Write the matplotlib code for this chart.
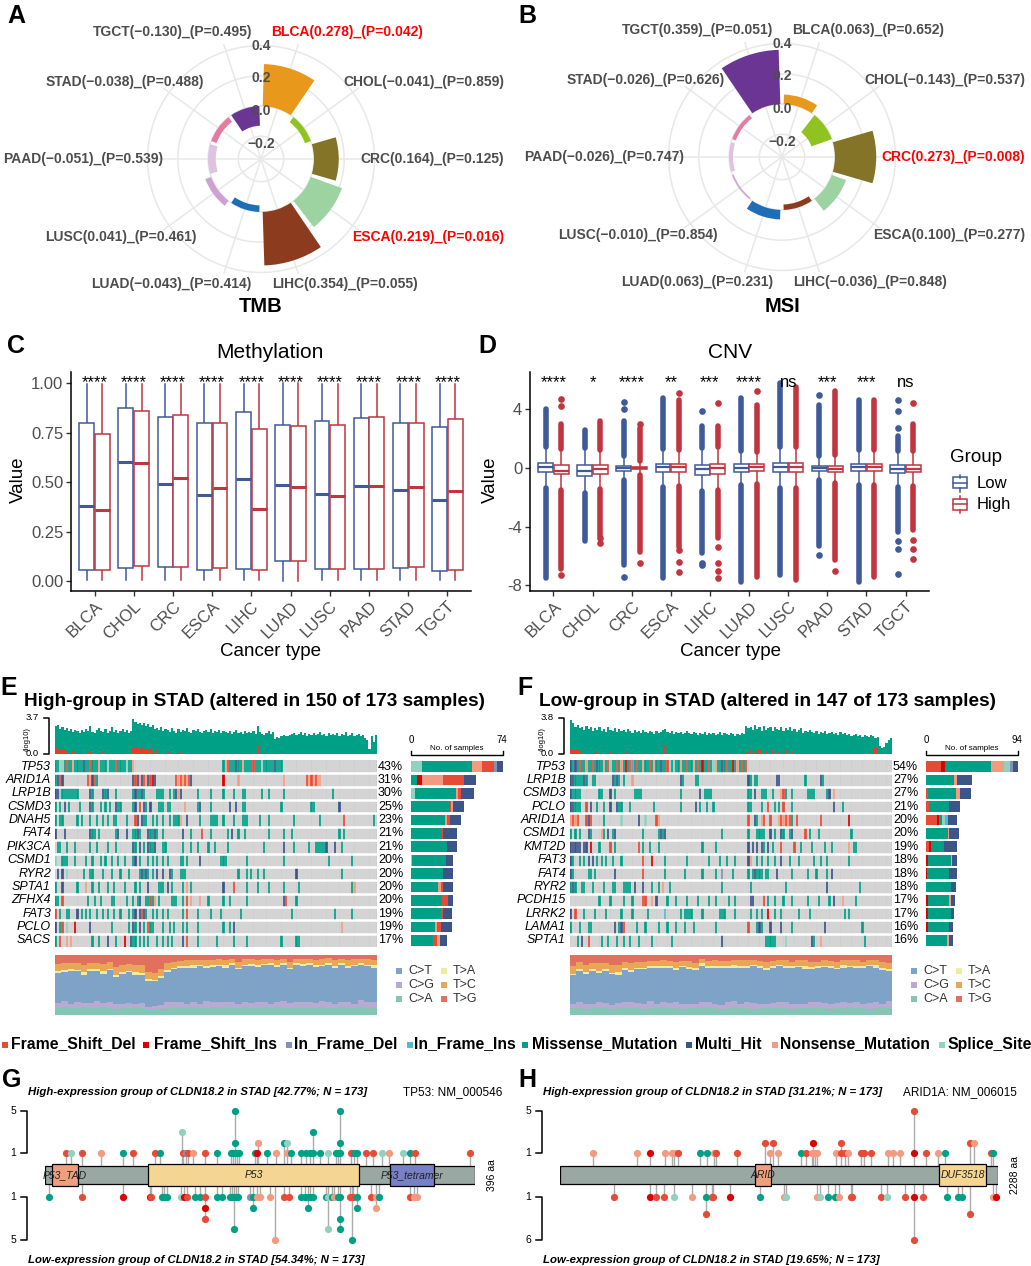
import numpy as np
import matplotlib
matplotlib.use('Agg')
import matplotlib.pyplot as plt
from matplotlib.patches import Rectangle
from matplotlib.lines import Line2D
from matplotlib.colors import to_rgb

plt.rcParams['font.family'] = ['Liberation Sans', 'DejaVu Sans']
plt.rcParams['axes.unicode_minus'] = False

# ---------------- data ----------------
cancers = ['BLCA', 'CHOL', 'CRC', 'ESCA', 'LIHC', 'LUAD', 'LUSC', 'PAAD', 'STAD', 'TGCT']
cancer_colors = ['#E8991C', '#8FC31F', '#847427', '#9DD3A0', '#8C3B1E',
                 '#1E6DB7', '#CDA2D3', '#DDC3E0', '#E57BA0', '#6A3593']

tmb_r = [0.278, -0.041, 0.164, 0.219, 0.354, -0.043, 0.041, -0.051, -0.038, -0.130]
tmb_p = [0.042, 0.859, 0.125, 0.016, 0.055, 0.414, 0.461, 0.539, 0.488, 0.495]
msi_r = [0.063, -0.143, 0.273, 0.100, -0.036, 0.063, -0.010, -0.026, -0.026, 0.359]
msi_p = [0.652, 0.537, 0.008, 0.277, 0.848, 0.231, 0.854, 0.747, 0.626, 0.051]

# methylation boxplots (min, q1, median, q3, max)
meth_low_min = [0.004, 0.003, 0.003, 0.003, 0.003, 0.000, 0.003, 0.003, 0.003, 0.003]
meth_low_q1 = [0.054, 0.066, 0.069, 0.055, 0.060, 0.100, 0.059, 0.061, 0.064, 0.050]
meth_low_med = [0.377, 0.600, 0.490, 0.434, 0.515, 0.487, 0.440, 0.480, 0.460, 0.407]
meth_low_q3 = [0.800, 0.875, 0.830, 0.800, 0.855, 0.790, 0.806, 0.825, 0.800, 0.780]
meth_low_max = [0.997, 0.997, 0.997, 0.997, 0.997, 0.998, 0.997, 0.997, 0.997, 0.997]
meth_high_min = [0.003, 0.003, 0.003, 0.003, 0.003, 0.000, 0.003, 0.003, 0.003, 0.003]
meth_high_q1 = [0.057, 0.077, 0.070, 0.064, 0.055, 0.100, 0.059, 0.061, 0.070, 0.054]
meth_high_med = [0.357, 0.597, 0.520, 0.468, 0.362, 0.475, 0.430, 0.482, 0.475, 0.453]
meth_high_q3 = [0.740, 0.857, 0.840, 0.800, 0.770, 0.785, 0.786, 0.828, 0.800, 0.817]
meth_high_max = [0.997, 0.997, 0.997, 0.997, 0.997, 1.000, 0.997, 0.997, 0.997, 0.997]
meth_sig = ['****'] * 10

# CNV boxplots
cnv_low_q1 = [-0.30, -0.53, -0.20, -0.30, -0.46, -0.27, -0.30, -0.20, -0.23, -0.34]
cnv_low_med = [0.07, -0.23, 0.0, 0.05, -0.10, 0.0, 0.05, 0.0, 0.05, -0.10]
cnv_low_q3 = [0.34, 0.20, 0.16, 0.30, 0.23, 0.25, 0.34, 0.16, 0.30, 0.23]
cnv_low_top = [4.0, 2.6, 3.2, 4.8, 2.85, 4.8, 5.8, 4.3, 4.6, 2.2]
cnv_low_bot = [-7.5, -5.0, -6.6, -7.5, -5.8, -7.8, -7.3, -5.3, -7.8, -4.35]
cnv_low_extra = [[], [], [4.0, 4.5, -7.4], [], [3.9, -6.5, -6.6], [], [], [4.95, -5.9], [],
                 [2.7, 3.9, 4.6, -5.0, -5.5, -7.2]]
cnv_high_q1 = [-0.41, -0.39, -0.10, -0.27, -0.39, -0.23, -0.30, -0.27, -0.23, -0.30]
cnv_high_med = [-0.18, -0.10, 0.0, 0.05, 0.0, 0.05, 0.05, -0.05, 0.05, -0.05]
cnv_high_q3 = [0.23, 0.23, 0.10, 0.30, 0.30, 0.27, 0.34, 0.16, 0.30, 0.23]
cnv_high_top = [3.0, 3.2, 2.7, 4.6, 2.85, 4.3, 5.5, 5.25, 4.6, 3.0]
cnv_high_bot = [-6.9, -4.6, -5.7, -5.4, -4.8, -7.4, -7.65, -6.3, -7.4, -4.2]
cnv_high_extra = [[4.2, 4.7, -7.3], [-4.8, -5.1], [3.0, -6.5], [5.1, -5.6, -6.4, -7.1],
                  [4.4, -5.4, -6.5, -7.0, -7.5], [5.25], [], [-7.0], [], [4.4, -4.9, -5.5, -6.2]]
cnv_sig = ['****', '*', '****', '**', '***', '****', 'ns', '***', '***', 'ns']

# mutation classes
vc_names = {'D': 'Frame_Shift_Del', 'I': 'Frame_Shift_Ins', 'd': 'In_Frame_Del', 'i': 'In_Frame_Ins',
            'M': 'Missense_Mutation', 'H': 'Multi_Hit', 'N': 'Nonsense_Mutation', 'S': 'Splice_Site'}
vc_colors = {'D': '#E64B35', 'I': '#DC0000', 'd': '#8491B4', 'i': '#4DBBD5',
             'M': '#00A087', 'H': '#3C5488', 'N': '#F39B7F', 'S': '#91D1C2'}

# oncoprint, high group (150 altered samples)
high_genes = ['TP53', 'ARID1A', 'LRP1B', 'CSMD3', 'DNAH5', 'FAT4', 'PIK3CA', 'CSMD1', 'RYR2',
              'SPTA1', 'ZFHX4', 'FAT3', 'PCLO', 'SACS']
high_pct = ['43%', '31%', '30%', '25%', '23%', '21%', '21%', '20%', '20%', '20%', '20%', '19%', '19%', '17%']
high_rows = [
    "0-36M 2S 3S 5D 8N 13H 16D 20N 24S 28D 33S 36N 78-105M 79N 80D 84H 87N 92D 96S 102H",
    "0M 1H 2D 3H 15D 16N 17H 18D 19M 36H 37D 38H 39N 40H 41D 42N 43H 44D 45I 46H 56D 57N 58D 59N "
    "60D 61N 62D 63H 78I 85N 106N 117D 118N 119D 120N 121D 122N 123N",
    "0-1H 2S 3-10M 16H 17M 22H 23M 24H 28M 36M 37H 38-39M 40H 41M 47-50M 53M 55M 56H 57N 58H 66M "
    "72M 78M 83M 87-88M 96M 99M 106M 129M",
    "0M 2M 4H 6M 11M 16H 17M 21M 23M 25M 28H 29-30M 36M 37H 39D 41H 42M 44H 48-50M 52M 53M 60N 66M "
    "67H 72M 81H 84H 87M 88M 105M 119M 120M 132H",
    "0M 2-3M 10M 12M 16M 19M 22M 24M 27-28M 33M 37D 38H 40H 41-42M 45M 47M 50M 53M 55-57M 58N 61H "
    "67M 72-75M 78M 83M 87-89M 95M 99M 111M 123M 134D 148M",
    "0H 4H 16H 17-18M 20M 28M 29H 33H 36-37M 38H 39M 43H 44-45M 46H 47M 50M 59H 63M 68D 72M 80M 82H "
    "85M 88M 99M 106M 110M 132M 134M",
    "1-2M 5M 9M 16M 19M 24M 28M 36H 37M 39H 41M 43H 44-45M 46H 50-51M 59M 63M 66M 71M 74M 80M 97M "
    "106H 111M 118M 121-125M 126H 130H 133M",
    "0S 3-5M 9M 14M 17M 21M 23M 26M 29M 32M 36M 37H 39M 43M 45M 47M 50M 52M 58-59M 61M 67H 77-79M "
    "89M 106M 127M 138M",
    "1H 3H 5S 13M 16-17M 22M 26M 30M 34M 39M 40H 41M 42H 43M 45M 47H 50H 53H 54M 58-60M 85M 89M 91M "
    "94M 97M 112H 133M",
    "0M 3H 10M 14N 17M 20M 24M 27M 32M 37M 39M 43H 48-50M 52H 54M 59M 61N 63M 78H 83D 89M 94M 99M "
    "106M 113M 138M 139N",
    "0-1M 3D 15M 18M 21M 26-27M 33M 36M 38M 39H 42M 43M 44D 45M 46N 48M 54-56M 59M 61D 63N 67N 71M "
    "78M 81M 89M 106H 107D 112M",
    "0D 2M 5M 6M 10H 12M 14M 16M 19M 22M 24M 27M 30M 34M 36M 37H 39H 40D 41H 42M 45M 47M 50M 52M "
    "59M 61D 66M 72M 77M 86M 110M 130M 138M",
    "0H 2M 3D 5S 9I 16H 26M 34M 36H 37M 39H 41M 43D 44M 45M 50M 53M 55M 59M 61M 66M 78M 81M 83H 133N",
    "0M 2D 5N 7N 17M 20M 24H 28M 32I 35H 36-37M 39M 41M 43M 47M 50M 52M 54M 59H 61D 66M 75M 83M 89M "
    "105M 112-113M",
]
high_bars = ["S9 M40 N8 D10 d2 H5", "M5 I4 N17 D17 H9", "S3 M33 N2 D2 H11", "M31 D1 N1.5 H9",
             "M27 N2 D2 H9", "M25 D1 H11", "M29 H8", "S1 M27 H6", "M26 H8", "M22 N2 D2 H7.5",
             "M25 D5 H3.5", "M24 D2 H7", "M19 N2 D3 H9", "M18 D3 N2 H6"]
high_tmb = [2.9, 3.0, 2.6, 2.8, 2.5, 2.7, 2.4, 2.6, 2.3, 2.5,
            2.4, 2.2, 2.5, 2.3, 2.6, 2.4, 2.9, 2.3, 2.2, 2.5,
            2.7, 2.4, 2.3, 2.6, 2.2, 2.4, 2.8, 2.3, 2.5, 2.2,
            2.4, 2.6, 2.3, 2.5, 2.2, 2.4, 3.6, 3.3, 3.1, 3.2,
            3.0, 3.2, 2.9, 3.1, 2.8, 3.0, 2.6, 2.7, 2.5, 2.8,
            2.4, 2.6, 2.5, 2.3, 2.7, 2.4, 2.2, 2.6, 2.3, 2.5,
            2.4, 2.7, 2.3, 2.2, 2.5, 2.4, 2.6, 2.3, 2.2, 2.4,
            2.5, 2.3, 2.6, 2.2, 2.4, 2.3, 2.5, 2.2, 2.4, 2.3,
            2.2, 2.4, 2.1, 2.3, 2.5, 2.2, 2.3, 2.1, 2.4, 2.2,
            2.3, 2.2, 2.4, 2.1, 2.9, 2.3, 2.1, 2.0, 2.2, 2.4,
            2.1, 2.3, 1.5, 1.7, 1.6, 1.9, 2.0, 1.8, 1.9, 2.0,
            2.1, 2.2, 2.0, 2.1, 2.3, 2.0, 2.2, 1.9, 2.1, 2.0,
            2.2, 2.0, 2.1, 2.3, 2.0, 2.1, 1.9, 2.2, 2.0, 2.1,
            2.0, 2.2, 1.9, 2.1, 2.0, 2.3, 1.9, 2.0, 2.2, 1.9,
            2.0, 2.1, 1.8, 2.0, 1.6, 1.4, 0.5, 1.9, 1.2, 2.0]
high_fs_cols = [0, 1, 2, 3, 4, 5, 8, 9, 15, 16, 22, 36, 37, 38, 39, 40, 41, 42, 43, 44, 45, 47, 52, 58, 94]
high_fs_vals = [0.6, 0.5, 0.55, 0.4, 0.5, 0.3, 0.35, 0.3, 0.3, 0.25, 0.3, 0.7, 0.6, 0.65, 0.5, 0.6,
                0.55, 0.5, 0.4, 0.6, 0.3, 0.4, 0.3, 0.25, 0.9]
high_ca = [12, 13, 11, 12, 14, 12, 11, 13, 12, 10, 12, 11, 13, 12, 8, 9, 10, 12, 13, 11,
           12, 13, 11, 12, 14, 12, 13, 11, 12, 13, 12, 11, 13, 12, 14, 12, 11, 13, 12, 13,
           12, 14, 11, 12, 13, 12, 11, 13, 12, 12]
high_cg = [8, 10, 7, 9, 6, 8, 12, 7, 9, 8, 7, 9, 6, 8, 5, 6, 7, 9, 8, 10,
           7, 9, 8, 11, 7, 9, 8, 10, 7, 9, 8, 10, 9, 7, 8, 11, 9, 8, 10, 9,
           8, 9, 11, 7, 9, 10, 8, 12, 9, 10]
high_ct = [50, 48, 55, 52, 47, 53, 51, 49, 54, 46, 50, 52, 48, 47, 44, 42, 45, 50, 55, 58,
           60, 57, 62, 56, 59, 61, 58, 63, 57, 60, 62, 59, 61, 64, 58, 60, 57, 62, 59, 61,
           60, 58, 62, 59, 61, 57, 63, 58, 60, 57]
high_ta = [3, 4, 3, 2, 4, 3, 3, 4, 2, 3, 3, 2, 4, 3, 3, 2, 3, 4, 3, 2,
           3, 4, 2, 3, 3, 2, 4, 3, 3, 2, 3, 3, 2, 4, 3, 3, 2, 3, 4, 3,
           3, 2, 3, 4, 3, 3, 2, 3, 3, 4]
high_tc = [12, 11, 10, 12, 13, 11, 10, 12, 11, 13, 12, 11, 12, 13, 12, 11, 12, 11, 10, 9,
           9, 8, 9, 10, 8, 9, 8, 7, 10, 9, 8, 9, 8, 7, 9, 8, 10, 8, 9, 8,
           9, 10, 8, 9, 8, 10, 9, 8, 9, 9]

# oncoprint, low group (147 altered samples)
low_genes = ['TP53', 'LRP1B', 'CSMD3', 'PCLO', 'ARID1A', 'CSMD1', 'KMT2D', 'FAT3', 'FAT4', 'RYR2',
             'PCDH15', 'LRRK2', 'LAMA1', 'SPTA1']
low_pct = ['54%', '27%', '27%', '21%', '20%', '20%', '19%', '18%', '18%', '18%', '17%', '17%', '16%', '16%']
low_rows = [
    "0-80M 0H 2H 4D 7N 10D 12H 15N 17D 18S 21D 23N 25I 27D 30D 33N 36D 38N 41H 44D 47S 50N 53D 56N "
    "58D 60I 63D 66N 69H 71D 74I 76N 78D 80D 28d 45S 65S",
    "0H 1H 2M 3-5M 6H 7M 10-11M 19H 20M 21H 22M 24M 28N 50H 51M 57-58M 81H 82M 84-85M 94H 95H 107M "
    "114H 115M",
    "0H 1-4M 13-14M 18H 20M 29-32M 50M 59H 61-64M 81M 82M 84H 87-89M 92M 96N 97D 98M 101M 108-111M "
    "117M 118H 120N",
    "0H 1H 2-3M 4M 7D 9H 12M 15M 18H 21H 22-23M 27M 38M 50M 57H 59M 62M 65M 81M 82M 87M 90D 93M 95M "
    "97D 101M 120H 124M",
    "0N 1D 2N 3D 7D 8H 9D 15M 23S 31H 34S 39D 40N 81D 84H 85M 87N 88D 91D 95N 96D 97N 98D 99N 100D "
    "101M 103D 114D 127I",
    "0M 2M 4M 8H 9M 14N 15M 17H 19M 20H 33M 40M 41H 42M 43H 69M 81M 85-87M 88M 91H 93M 96H 97M 100M "
    "101H 107D 109M 113M 128M",
    "0-4H 6H 7H 9I 13M 18D 20M 31D 33M 36M 40M 60M 66M 81H 83H 85H 87H 88M 90H 92M 96D 102D 105M 110M "
    "116M 119M 127N 129-130M",
    "0H 1M 4M 6M 8H 10H 12M 14M 16M 19M 23M 33D 37I 43M 53M 63M 68M 71M 75M 81H 82N 85M 87M 90M 93M "
    "96H 100M 104M 111M 114M 117M 127M",
    "0H 1M 8-9M 11M 20H 33D 43M 52M 60M 66M 69d 74M 81M 83M 84H 85-87M 89-90M 94H 101M 108M 112M "
    "117M 119H",
    "0M 1H 2M 5-6M 10M 15M 19-20M 24-27M 29H 33H 37M 40M 42N 45M 69M 82M 98M 117H 132M",
    "13M 18M 24M 28M 33D 34D 37N 39H 44M 48M 53M 58M 63M 66M 72M 75M 82H 83H 88D 90M 93M 97M 101M "
    "108M 113M 118M 120H 124N 130M",
    "0H 2D 6M 11M 16M 23M 28M 35M 43i 50M 52M 53M 54M 55M 60M 68-70M 75M 82M 85M 87M 90I 93M 96M "
    "104M 109M 125M 127M",
    "0M 4M 8-9M 20H 22M 23H 24D 30M 34M 40M 44M 48M 52M 56M 66M 81D 85M 86H 87M 91H 96H 101M 116H 133M",
    "3M 5H 8D 14M 17M 21M 24M 27M 31M 37M 46M 69H 89-93M 98S 110H 111M 114N 134M",
]
low_bars = ["D15 I4 M47 N14 S6 d3 H5", "M29 N3 H15", "D2 M29 N4 H11", "D3 M20 H12",
            "D11 I2 M3 S3 i3 H10", "M22 N2 H10", "D3 I2 M13 H14", "I2 M24 N1 H5", "I1 M23 H8",
            "M26 H5", "I2 M22 N2 H4", "I2 M24 H3", "I2 M21 H5", "M21 N2 H5"]
low_tmb = [3.6, 3.3, 2.9, 3.1, 2.7, 2.9, 2.5, 3.0, 2.6, 2.8,
           2.4, 2.7, 2.5, 2.9, 2.4, 2.6, 2.3, 2.8, 2.5, 2.4,
           2.7, 2.3, 2.6, 2.4, 2.5, 2.3, 2.6, 2.4, 2.2, 2.5,
           2.3, 2.4, 2.2, 2.5, 2.3, 2.2, 2.4, 2.3, 2.1, 2.4,
           2.2, 2.3, 2.5, 2.6, 2.3, 2.2, 2.4, 2.1, 2.3, 2.2,
           2.3, 2.1, 2.2, 2.4, 2.2, 2.1, 2.3, 2.2, 2.0, 2.2,
           2.1, 2.3, 2.0, 2.2, 2.1, 2.2, 2.0, 2.1, 2.3, 2.0,
           2.2, 2.1, 2.0, 2.2, 2.1, 1.9, 2.1, 2.0, 2.2, 2.1,
           3.0, 2.7, 2.9, 2.5, 3.1, 2.6, 2.8, 2.4, 3.0, 2.5,
           2.7, 2.9, 2.4, 2.8, 2.6, 2.5, 2.9, 2.4, 2.7, 2.5,
           2.8, 2.4, 2.6, 2.3, 2.5, 2.7, 2.2, 2.4, 2.3, 2.5,
           2.3, 2.2, 2.4, 2.1, 2.3, 2.2, 2.4, 2.1, 2.2, 2.3,
           2.1, 2.2, 2.0, 2.3, 2.1, 2.2, 2.0, 2.1, 1.9, 2.0,
           2.1, 1.9, 2.0, 1.8, 2.0, 1.9, 1.8, 2.0, 1.9, 1.7,
           1.8, 0.8, 0.6, 0.7, 1.2, 1.5, 1.7]
low_fs_cols = [0, 1, 2, 3, 4, 12, 18, 25, 43, 80, 82, 84, 86, 89, 92, 95, 98, 101, 139]
low_fs_vals = [0.5, 0.45, 0.4, 0.5, 0.3, 0.3, 0.25, 0.3, 1.0, 0.3, 0.4, 0.35, 0.5, 0.3, 0.45, 0.3,
               0.4, 0.3, 0.6]
low_ca = [11, 12, 10, 13, 11, 12, 10, 11, 13, 12, 11, 10, 12, 11, 13, 12, 11, 10, 12, 11,
          13, 12, 11, 10, 12, 13, 11, 12, 10, 11, 12, 11, 13, 12, 10, 11, 12, 13, 11, 12,
          10, 12, 11, 13, 12, 11, 10, 12, 11, 12]
low_cg = [7, 9, 8, 6, 10, 8, 7, 9, 8, 10, 9, 8, 11, 7, 9, 8, 10, 9, 7, 8,
          9, 10, 8, 7, 9, 11, 8, 9, 10, 8, 7, 9, 8, 10, 9, 8, 7, 9, 10, 8,
          9, 8, 10, 7, 9, 8, 10, 9, 8, 12]
low_ct = [48, 52, 50, 55, 49, 53, 51, 47, 54, 50, 56, 58, 55, 60, 57, 59, 54, 61, 58, 56,
          60, 57, 59, 62, 58, 55, 60, 57, 61, 59, 56, 58, 60, 57, 59, 61, 58, 55, 57, 60,
          59, 56, 58, 60, 57, 59, 61, 58, 56, 50]
low_ta = [3, 4, 3, 2, 4, 3, 2, 4, 3, 3, 2, 3, 4, 3, 2, 3, 4, 2, 3, 3,
          4, 2, 3, 3, 2, 4, 3, 3, 2, 3, 3, 4, 2, 3, 3, 2, 4, 3, 3, 2,
          3, 3, 4, 2, 3, 3, 2, 4, 3, 3]
low_tc = [13, 11, 12, 10, 12, 11, 13, 12, 10, 11, 10, 9, 8, 9, 10, 8, 9, 8, 10, 9,
          8, 9, 10, 8, 9, 8, 9, 10, 8, 9, 10, 8, 9, 10, 8, 9, 10, 9, 8, 9,
          9, 10, 8, 9, 10, 8, 9, 8, 10, 9]

titv_names = ['C>A', 'C>G', 'C>T', 'T>A', 'T>C', 'T>G']
titv_colors = ['#84C6B4', '#B8AAD2', '#7EA3C7', '#EFEBA2', '#E9A656', '#E2705F']

# lollipops: "aa:count:class"
tp53_domains = [('P53_TAD', 6, 30, '#EDA07E'), ('P53', 95, 289, '#F4D592'), ('P53_tetramer', 318, 358, '#7880C8')]
tp53_high = ("19:1:D 24:1:S 34:1:D 52:1:N 72:1:M 81:1:D 101:1:D 106:1:M 126:3:S 127:1:D 130:1:d 132:1:D "
             "136:1:N 147:1:D 158:1:M 171:1:M 173:1:M 175:1:M 175:2:M 175:5:M 177:1:M 179:1:M 193:1:M "
             "195:1:I 196:2:N 204:1:M 213:1:N 220:2:M 223:2:S 223:1:N 227:1:M 236:1:M 240:1:M 244:1:M "
             "247:1:M 247:3:M 253:1:M 261:1:S 268:1:M 270:1:M 272:1:M 272:2:M 272:5:M 282:1:D 285:1:M "
             "287:1:M 296:1:D 302:1:D 310:1:S 317:1:N 330:1:S 336:1:M 341:1:D 391:1:D")
tp53_low = ("4:1:M 34:1:D 72:1:I 97:1:I 98:1:D 108:1:M 110:1:M 112:1:M 125:1:S 128:1:I 131:1:D 138:1:M "
            "143:1:M 147:1:D 147:2:I 147:3:D 158:1:M 163:1:M 170:1:M 172:1:M 174:1:M 174:4:M 176:1:M "
            "178:1:M 189:1:d 192:1:M 192:2:M 195:1:N 198:1:N 207:1:N 212:5:N 220:1:D 225:1:D 236:1:M "
            "239:1:M 242:1:M 242:2:M 244:1:M 247:1:M 259:1:M 261:1:S 261:4:S 264:1:M 266:1:N 270:1:M "
            "272:1:M 272:3:M 272:4:M 281:1:D 283:5:M 284:1:D 287:1:M 287:2:M 300:1:D 305:1:N 305:2:N "
            "308:1:M 336:1:D 340:1:N 343:1:N")
arid1a_domains = [('ARID', 1018, 1101, '#EDA07E'), ('DUF3518', 1978, 2227, '#F4D592')]
arid1a_high = ("174:1:N 400:1:N 470:1:I 548:1:N 583:1:N 597:1:N 614:1:D 731:1:M 766:1:M 804:1:N 813:1:D "
               "922:1:D 1070:2:D 1096:1:N 1114:2:D 1140:1:N 1258:1:M 1284:1:D 1317:1:N 1322:2:I 1330:1:N "
               "1340:1:N 1444:1:N 1467:2:D 1467:1:D 1488:1:D 1505:1:N 1571:1:D 1589:1:D 1623:1:D 1714:1:N "
               "1740:1:N 1778:1:N 1850:1:I 1850:5:D 1914:1:D 1975:1:N 2010:1:M 2140:2:D 2163:2:N 2250:1:D "
               "2262:1:M")
arid1a_low = ("284:1:D 470:1:I 499:1:D 545:1:D 597:1:S 692:1:N 762:1:M 762:3:D 792:1:D 800:1:D 887:1:I "
              "1047:1:M 1171:1:N 1183:1:S 1340:1:N 1357:1:S 1401:1:M 1439:1:M 1456:1:N 1519:1:D 1526:1:D "
              "1679:1:D 1710:1:S 1804:1:D 1850:1:I 1850:6:D 1897:1:D 2023:1:M 2079:1:M 2100:1:M 2140:3:D "
              "2262:1:N 2279:1:I")

BLUE = '#3F5A98'
RED = '#C0353F'
GREY_TXT = '#4D4D4D'

# ---------------- figure helpers ----------------
W, H = 1031, 1266
fig = plt.figure(figsize=(W / 100, H / 100), dpi=100)


def px_ax(l, t, r, b, **kw):
    return fig.add_axes([l / W, 1 - b / H, (r - l) / W, (b - t) / H], **kw)


def ftext(x, y, s, **kw):
    return fig.text(x / W, 1 - y / H, s, **kw)


def fline(xs, ys, **kw):
    fig.add_artist(Line2D([x / W for x in xs], [1 - y / H for y in ys], transform=fig.transFigure, **kw))


def frect(l, t, w, h, **kw):
    fig.add_artist(Rectangle((l / W, 1 - (t + h) / H), w / W, h / H, transform=fig.transFigure, **kw))


for lab, x, y in [('A', 7, 23), ('B', 518, 23), ('C', 7, 353), ('D', 478, 353),
                  ('E', 0, 695), ('F', 517, 695), ('G', 2, 1087), ('H', 518, 1087)]:
    ftext(x, y, lab, fontsize=18, fontweight='bold', va='baseline')


# ---------------- A / B radial bars ----------------
def radar(cx, cy, rvals, pvals, title):
    R = 121
    ax = px_ax(cx - R, cy - R, cx + R, cy + R, projection='polar')
    ax.set_theta_zero_location('N')
    ax.set_theta_direction(-1)
    ax.set_ylim(-0.35, 0.45)
    ax.set_xticks([])
    ax.set_yticks([])
    ax.grid(False)
    ax.spines['polar'].set_visible(False)
    ax.set_facecolor('none')
    ring = np.linspace(0, 2 * np.pi, 361)
    for r in [-0.2, 0.0, 0.2, 0.4]:
        ax.plot(ring, np.full_like(ring, r), color='#E8E8E8', lw=1.1, zorder=0)
    theta = np.deg2rad(18 + 36 * np.arange(len(cancers)))
    for th in theta:
        ax.plot([th, th], [-0.35, 0.45], color='#E8E8E8', lw=1.1, zorder=0)
    ax.bar(theta, rvals, width=np.deg2rad(36 * 0.9), bottom=0, color=cancer_colors, zorder=2)
    for lab, rp in zip(['0.4', '0.2', '0.0', '\u22120.2'], [0.40, 0.185, -0.03, -0.25]):
        ax.text(0, rp, lab, ha='center', va='center', fontsize=10, fontweight='bold',
                color=GREY_TXT, zorder=3)
    dx_r = [10, 82, 99, 91, 11]
    dx_l = [-9, -57, -98, -64, -9]
    dy = [127, 77, 0, -78, -125]
    for i, c in enumerate(cancers):
        txt = f'{c}({rvals[i]:.3f})_(P={pvals[i]:.3f})'.replace('-', '\u2212')
        col = '#FF0000' if pvals[i] < 0.05 else GREY_TXT
        if i < 5:
            x, y, ha = cx + dx_r[i], cy - dy[i], 'left'
        else:
            j = 9 - i
            x, y, ha = cx + dx_l[j], cy - dy[j], 'right'
        ftext(x, y, txt, ha=ha, va='center', fontsize=10, fontweight='bold', color=col)
    ftext(cx, 307, title, ha='center', va='center', fontsize=14.5, fontweight='bold')


radar(261, 159, tmb_r, tmb_p, 'TMB')
radar(782, 157, msi_r, msi_p, 'MSI')


# ---------------- C / D boxplots ----------------
def style_box_axes(ax, title, cx):
    for s in ['top', 'right']:
        ax.spines[s].set_visible(False)
    for s in ['left', 'bottom']:
        ax.spines[s].set_linewidth(1.1)
    ax.set_xlim(0.4, 10.6)
    ax.set_xticks(np.arange(1, 11))
    ax.set_xticklabels(cancers, rotation=45, ha='right', va='top', rotation_mode='anchor')
    ax.tick_params(labelsize=12, labelcolor=GREY_TXT, length=3.5, width=1, color='#333333', pad=2)
    ftext(cx, 353, title, ha='center', va='center', fontsize=15)
    ftext(cx, 652, 'Cancer type', ha='center', va='center', fontsize=13.5)


axc = px_ax(71, 372, 471, 591)
style_box_axes(axc, 'Methylation', 270)
axc.set_ylim(-0.0505, 1.0556)
axc.set_yticks([0, 0.25, 0.5, 0.75, 1.0])
axc.set_yticklabels(['0.00', '0.25', '0.50', '0.75', '1.00'])
ftext(18, 480, 'Value', rotation=90, ha='center', va='center', fontsize=13.5)
bw = 0.38
for i in range(10):
    for off, col, mn, q1, md, q3, mx in [
            (-0.2, BLUE, meth_low_min[i], meth_low_q1[i], meth_low_med[i], meth_low_q3[i], meth_low_max[i]),
            (0.2, RED, meth_high_min[i], meth_high_q1[i], meth_high_med[i], meth_high_q3[i], meth_high_max[i])]:
        x = i + 1 + off
        axc.plot([x, x], [q3, mx], color=col, lw=1.1)
        axc.plot([x, x], [mn, q1], color=col, lw=1.1)
        axc.add_patch(Rectangle((x - bw / 2, q1), bw, q3 - q1, fc='white', ec=col, lw=1.1, zorder=3))
        axc.plot([x - bw / 2, x + bw / 2], [md, md], color=col, lw=2.2, zorder=4, solid_capstyle='butt')
    axc.text(i + 1, 0.98, meth_sig[i], ha='center', va='baseline', fontsize=12)

axd = px_ax(530, 372, 929, 591)
style_box_axes(axd, 'CNV', 730)
axd.set_ylim(-8.38, 6.54)
axd.set_yticks([-8, -4, 0, 4])
ftext(490, 480, 'Value', rotation=90, ha='center', va='center', fontsize=13.5)
for i in range(10):
    for off, col, q1, md, q3, top, bot, extra in [
            (-0.2, BLUE, cnv_low_q1[i], cnv_low_med[i], cnv_low_q3[i], cnv_low_top[i], cnv_low_bot[i],
             cnv_low_extra[i]),
            (0.2, RED, cnv_high_q1[i], cnv_high_med[i], cnv_high_q3[i], cnv_high_top[i], cnv_high_bot[i],
             cnv_high_extra[i])]:
        x = i + 1 + off
        iqr = q3 - q1
        w_hi, w_lo = q3 + 1.5 * iqr, q1 - 1.5 * iqr
        axd.plot([x, x], [q3, w_hi], color=col, lw=1.1)
        axd.plot([x, x], [w_lo, q1], color=col, lw=1.1)
        axd.plot([x, x], [w_hi + 0.1, top], color=col, lw=4.0, solid_capstyle='round')
        axd.plot([x, x], [w_lo - 0.1, bot], color=col, lw=4.0, solid_capstyle='round')
        if extra:
            axd.plot([x] * len(extra), extra, 'o', color=col, ms=4.8, mew=0)
        axd.add_patch(Rectangle((x - bw / 2, q1), bw, iqr, fc='white', ec=col, lw=1.1, zorder=3))
        axd.plot([x - bw / 2, x + bw / 2], [md, md], color=col, lw=1.6, zorder=4, solid_capstyle='butt')
    axd.text(i + 1, 5.52, cnv_sig[i], ha='center', va='baseline', fontsize=12)

ftext(950, 458, 'Group', ha='left', va='center', fontsize=13.5)
for k, (name, col) in enumerate([('Low', BLUE), ('High', RED)]):
    yc = 483 + k * 21
    frect(953, yc - 5.5, 14, 11, fc='white', ec=col, lw=1.1)
    fline([953, 967], [yc, yc], color=col, lw=1.1)
    fline([960, 960], [yc - 8.5, yc - 5.5], color=col, lw=1.1)
    fline([960, 960], [yc + 5.5, yc + 8.5], color=col, lw=1.1)
    ftext(977, yc, name, ha='left', va='center', fontsize=12)


# ---------------- E / F oncoprints ----------------
def parse_cells(spec, n):
    row = ['.'] * n
    for tok in spec.split():
        rng, code = tok[:-1], tok[-1]
        a, _, b = rng.partition('-')
        for c in range(int(a), int(b or a) + 1):
            if c < n:
                row[c] = code
    return row


def oncoprint(x0, title, genes, pcts, rows, n, bars, xmax, tmb, ymax, fs_cols, fs_vals, titv):
    ftext(x0 + 24, 706, title, ha='left', va='baseline', fontsize=13.7, fontweight='bold')
    # top bars
    axt = px_ax(x0 + 55, 718, x0 + 377, 754)
    xs = np.arange(len(tmb)) + 0.5
    axt.bar(xs, tmb, width=1.0, color=vc_colors['M'], linewidth=0)
    axt.bar(np.array(fs_cols) + 0.5, fs_vals, width=1.0, color='#E23D2D', linewidth=0)
    axt.set_xlim(0, n)
    axt.set_ylim(0, ymax)
    axt.axis('off')
    fline([x0 + 44, x0 + 49, x0 + 49, x0 + 44], [718, 718, 754, 754], color='black', lw=1.1)
    ftext(x0 + 39, 717.5, f'{ymax:.1f}', ha='right', va='center', fontsize=6.8)
    ftext(x0 + 39, 753, '0.0', ha='right', va='center', fontsize=6.8)
    ftext(x0 + 27, 739, '(log10)', ha='center', va='center', rotation=90, fontsize=5.5)
    # matrix
    axm = px_ax(x0 + 55, 760, x0 + 377, 947)
    cells = [parse_cells(spec, n) for spec in rows]
    rgb = np.array([[to_rgb(vc_colors.get(c, '#CFCFCF')) for c in r] for r in cells])
    axm.imshow(rgb, aspect='auto', interpolation='nearest', extent=(0, n, len(rows), 0))
    axm.vlines(np.arange(1, n), 0, len(rows), color='white', lw=0.3, alpha=0.5)
    for k in range(1, len(rows)):
        axm.axhline(k, color='white', lw=1.8)
    axm.axis('off')
    rh = (947 - 760) / len(rows)
    for k, (g, p) in enumerate(zip(genes, pcts)):
        yc = 760 + (k + 0.5) * rh
        ftext(x0 + 51, yc, g, ha='right', va='center', fontsize=9, style='italic')
        ftext(x0 + 378, yc, p, ha='left', va='center', fontsize=9)
    # side bars
    axr = px_ax(x0 + 411, 760, x0 + 503, 947)
    for k, spec in enumerate(bars):
        left = 0.0
        for tok in spec.split():
            code, val = tok[0], float(tok[1:])
            axr.barh(k + 0.5, val, left=left, height=0.8, color=vc_colors[code], linewidth=0)
            left += val
    axr.set_xlim(0, xmax)
    axr.set_ylim(len(rows), 0)
    axr.axis('off')
    fline([x0 + 411, x0 + 411, x0 + 503, x0 + 503], [751, 755, 755, 751], color='black', lw=1.0)
    ftext(x0 + 411, 740, '0', ha='center', va='center', fontsize=7)
    ftext(x0 + 502, 740, str(xmax), ha='center', va='center', fontsize=7)
    ftext(x0 + 457, 749, 'No. of samples', ha='center', va='center', fontsize=5.8)
    # Ti/Tv
    axb = px_ax(x0 + 55, 955, x0 + 377, 1015)
    ca, cg, ct, ta, tc = titv
    m = min(len(ca), len(cg), len(ct), len(ta), len(tc))
    ca, cg, ct, ta, tc = [np.array(v[:m], float) for v in (ca, cg, ct, ta, tc)]
    tg = 100 - (ca + cg + ct + ta + tc)
    bottom = np.zeros(m)
    bx = np.arange(m)
    for vals, col in zip([ca, cg, ct, ta, tc, tg], titv_colors):
        axb.bar(bx, vals, bottom=bottom, width=1.0, color=col, linewidth=0)
        bottom += vals
    axb.set_xlim(-0.5, m - 0.5)
    axb.set_ylim(0, 100)
    axb.axis('off')
    order = [('C>T', 2), ('C>G', 1), ('C>A', 0), ('T>A', 3), ('T>C', 4), ('T>G', 5)]
    for k, (name, ci) in enumerate(order):
        col_x = x0 + (397 if k < 3 else 442)
        yc = 971 + (k % 3) * 14
        frect(col_x - 1, yc - 3, 6, 6, fc=titv_colors[ci], ec='none')
        ftext(col_x + 11, yc, name, ha='left', va='center', fontsize=9, color='#333333')


oncoprint(0, 'High-group in STAD (altered in 150 of 173 samples)', high_genes, high_pct, high_rows, 150,
          high_bars, 74, high_tmb, 3.7, high_fs_cols, high_fs_vals,
          (high_ca, high_cg, high_ct, high_ta, high_tc))
oncoprint(515, 'Low-group in STAD (altered in 147 of 173 samples)', low_genes, low_pct, low_rows, 147,
          low_bars, 94, low_tmb, 3.8, low_fs_cols, low_fs_vals,
          (low_ca, low_cg, low_ct, low_ta, low_tc))

# mutation class legend
for code, sx, tx in [('D', 2, 11), ('I', 143, 154), ('d', 286, 294), ('i', 407, 414),
                     ('M', 522, 532), ('H', 686, 695), ('N', 772, 780), ('S', 939, 947)]:
    frect(sx, 1042, 5.5, 5.5, fc=vc_colors[code], ec='none')
    ftext(tx, 1044, vc_names[code], ha='left', va='center', fontsize=11.3, fontweight='bold')


# ---------------- G / H lollipops ----------------
def parse_muts(spec):
    out = []
    for tok in spec.split():
        aa, cnt, code = tok.split(':')
        out.append((int(aa), int(cnt), code))
    return out


def lollipop(x0, right, length, domains, high_spec, low_spec, high_title, low_title, tx_name):
    ax = px_ax(x0 + 45, 1100, x0 + right, 1250)
    ax.set_xlim(0, length)
    ax.set_ylim(-75, 75)
    ax.axis('off')
    ups, dns = parse_muts(high_spec), parse_muts(low_spec)
    up_max = max(c for _, c, _ in ups)
    dn_max = max(c for _, c, _ in dns)

    def y_up(c):
        return 22 + (c - 1) / (up_max - 1) * 42

    def y_dn(c):
        return -(22 + (c - 1) / (dn_max - 1) * 43)

    for muts, fy, edge in [(ups, y_up, 9), (dns, y_dn, -9)]:
        tops = {}
        for aa, c, _ in muts:
            tops[aa] = max(tops.get(aa, 0), c)
        for aa, c in tops.items():
            ax.plot([aa, aa], [edge, fy(c)], color='#ABABAB', lw=1.0, zorder=1)
        for aa, c, code in muts:
            ax.plot(aa, fy(c), 'o', ms=5.2, mew=0, color=vc_colors[code], zorder=3, clip_on=False)
    ax.add_patch(Rectangle((0, -9), length, 18, fc='#9AA8A4', ec='black', lw=0.9, zorder=2))
    for name, s, e, col in domains:
        ax.add_patch(Rectangle((s, -11), e - s, 22, fc=col, ec='black', lw=0.9, zorder=2))
        ax.text((s + e) / 2, 0, name, ha='center', va='center', fontsize=7.5, style='italic',
                color='#222222', zorder=4)
    # y brackets
    fline([x0 + 21, x0 + 27, x0 + 27, x0 + 21], [1111, 1111, 1153, 1153], color='black', lw=1.1)
    fline([x0 + 21, x0 + 27, x0 + 27, x0 + 21], [1197, 1197, 1240, 1240], color='black', lw=1.1)
    ftext(x0 + 13, 1111, str(up_max), ha='center', va='center', fontsize=7.5)
    ftext(x0 + 13, 1153, '1', ha='center', va='center', fontsize=7.5)
    ftext(x0 + 13, 1197, '1', ha='center', va='center', fontsize=7.5)
    ftext(x0 + 13, 1240, str(dn_max), ha='center', va='center', fontsize=7.5)
    ftext(x0 + 28, 1092, high_title, ha='left', va='center', fontsize=8.2, fontweight='bold', style='italic')
    ftext(x0 + 28, 1260, low_title, ha='left', va='center', fontsize=8.2, fontweight='bold', style='italic')
    ftext(x0 + 502, 1092, tx_name, ha='right', va='center', fontsize=8.5)
    ftext(x0 + right + 17, 1175, f'{length} aa', ha='center', va='center', rotation=90, fontsize=7.5)


lollipop(0, 475, 396, tp53_domains, tp53_high, tp53_low,
         'High-expression group of CLDN18.2 in STAD [42.77%; N = 173]',
         'Low-expression group of CLDN18.2 in STAD [54.34%; N = 173]', 'TP53: NM_000546')
lollipop(515, 483, 2288, arid1a_domains, arid1a_high, arid1a_low,
         'High-expression group of CLDN18.2 in STAD [31.21%; N = 173]',
         'Low-expression group of CLDN18.2 in STAD [19.65%; N = 173]', 'ARID1A: NM_006015')

fig.savefig('out.png', dpi=100)
